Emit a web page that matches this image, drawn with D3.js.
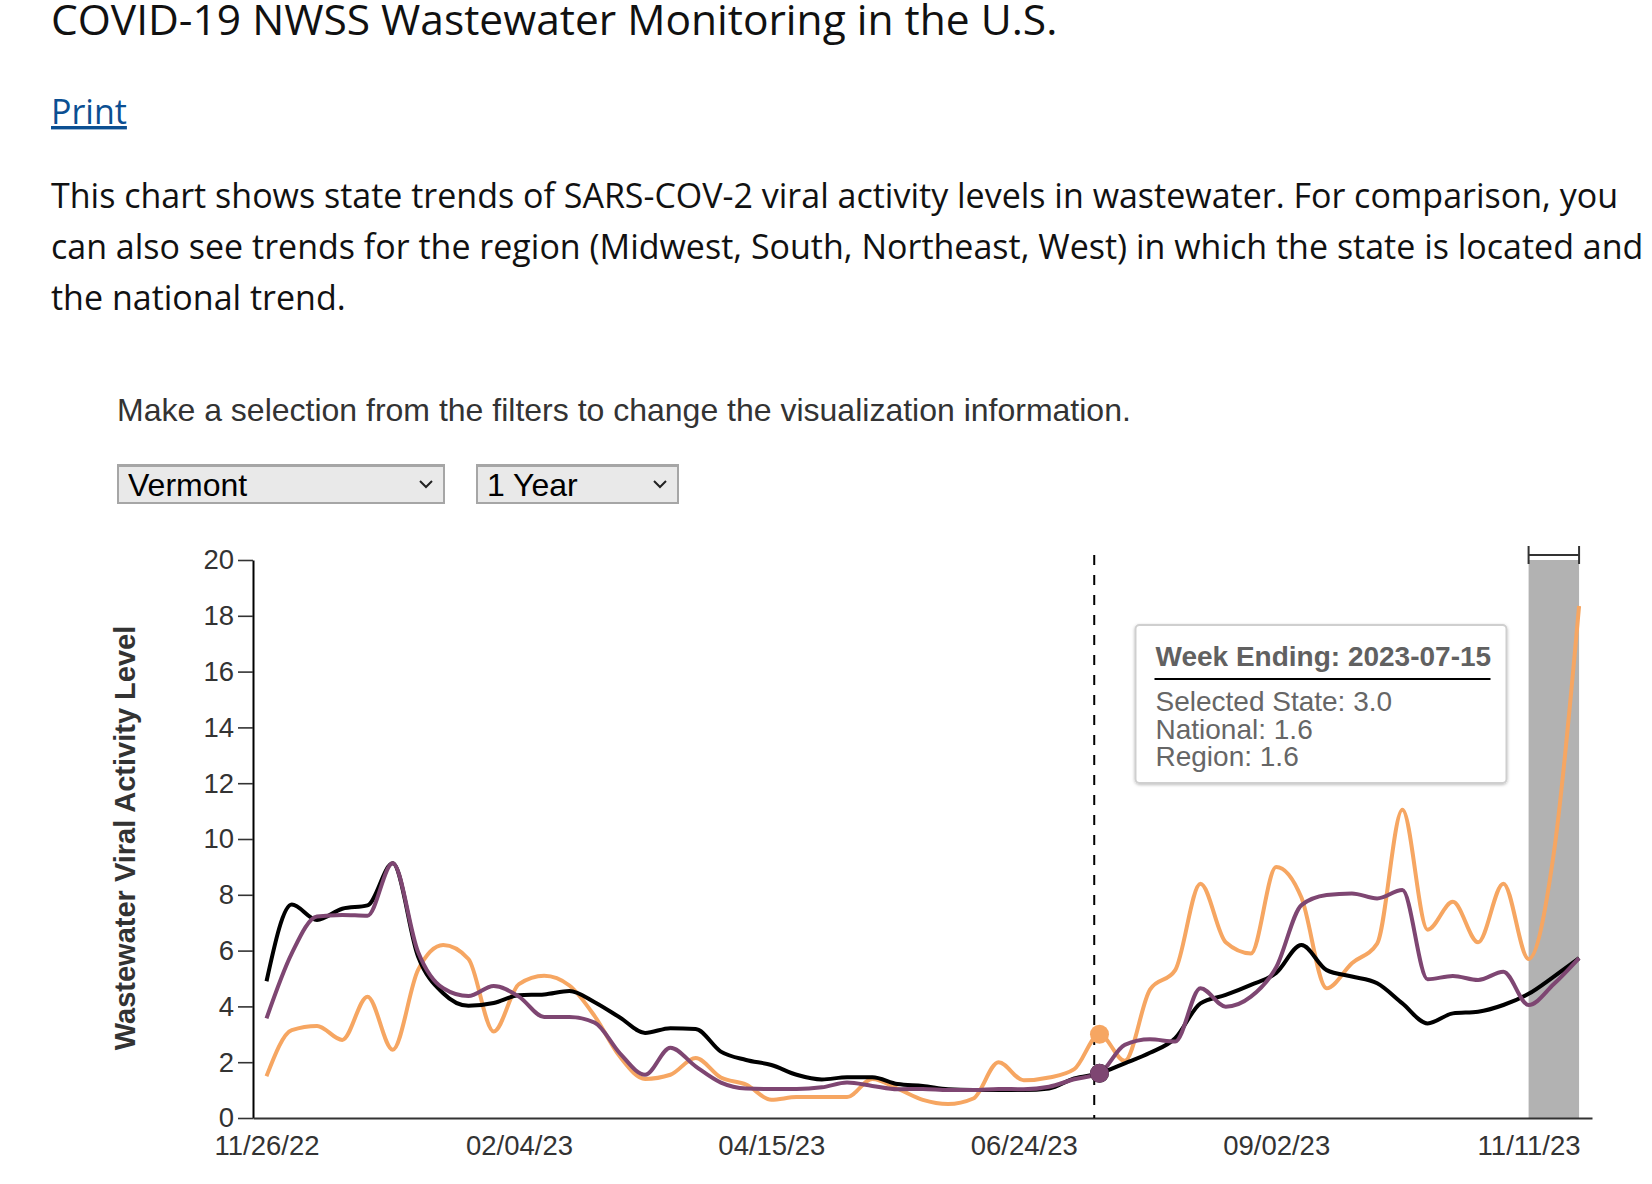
<!DOCTYPE html>
<html>
<head>
<meta charset="utf-8">
<script src="https://cdn.jsdelivr.net/npm/d3@7"></script>
<style>
  body { margin: 0; background: #fff; }
  #page { position: relative; width: 1652px; height: 1184px; overflow: hidden; }
  #canvas { position: absolute; left: 0; top: 0; }
  .filter {
    position: absolute;
    -webkit-appearance: none;
    appearance: none;
    box-sizing: border-box;
    height: 40px;
    padding: 0 0 0 9px;
    font: 32px "Liberation Sans", Arial, sans-serif;
    color: #000;
    background-color: #e9e9e9;
    border: 2px solid #a6a6a6;
    border-top-width: 3px;
    border-radius: 0;
    background-image: url("data:image/svg+xml;utf8,<svg xmlns='http://www.w3.org/2000/svg' width='14' height='9'><path d='M1 1 L7 7 L13 1' fill='none' stroke='%23222' stroke-width='2'/></svg>");
    background-repeat: no-repeat;
    background-position: right 10px center;
  }
</style>
</head>
<body>
<div id="page"></div>
<script>
// weekly values, first week ending 2022-11-26, last 2023-11-25
let firstWeek = '2022-11-26'
let stateValues = [
  1.5, 3.15, 3.3, 2.8, 4.35, 2.45, 5.3, 6.2, 5.7, 3.1,
  4.8, 5.1, 4.75, 3.65, 2.2, 1.4, 1.55, 2.15, 1.45, 1.2,
  0.65, 0.75, 0.75, 0.75, 1.4, 1.05, 0.65, 0.5, 0.7, 2.0,
  1.35, 1.45, 1.75, 3.0, 2.05, 4.6, 5.3, 8.4, 6.3, 5.9,
  9.0, 7.9, 4.65, 5.55, 6.25, 11.05, 6.75, 7.75, 6.3, 8.4,
  5.7, 9.5, 18.35
]
let nationalValues = [
  4.9, 7.65, 7.1, 7.5, 7.62, 9.13, 5.8, 4.47, 4.02, 4.12,
  4.4, 4.43, 4.55, 4.15, 3.6, 3.05, 3.22, 3.19, 2.38, 2.08,
  1.9, 1.55, 1.38, 1.46, 1.46, 1.22, 1.15, 1.03, 1.0, 1.0,
  1.0, 1.06, 1.42, 1.6, 1.96, 2.34, 2.86, 4.11, 4.41, 4.77,
  5.2, 6.2, 5.3, 5.07, 4.83, 4.11, 3.39, 3.75, 3.81, 4.05,
  4.45, 5.07, 5.73
]
let regionValues = [
  3.57, 5.9, 7.22, 7.28, 7.25, 9.13, 5.96, 4.65, 4.37, 4.73,
  4.35, 3.62, 3.62, 3.42, 2.32, 1.55, 2.52, 1.85, 1.27, 1.06,
  1.04, 1.04, 1.1, 1.27, 1.15, 1.03, 1.04, 1.0, 1.0, 1.04,
  1.03, 1.12, 1.39, 1.6, 2.62, 2.82, 2.74, 4.65, 3.99, 4.35,
  5.4, 7.63, 7.99, 8.05, 7.87, 8.17, 4.97, 5.09, 4.95, 5.24,
  4.05, 4.8, 5.73
]
let tickLabels = ['11/26/22', '02/04/23', '04/15/23', '06/24/23', '09/02/23', '11/11/23']
let yTicks = [0, 2, 4, 6, 8, 10, 12, 14, 16, 18, 20]
let selectedWeek = '2023-07-15'
let hoverTime = '2023-07-13 13:00'   // where the mouse line sits
let incompleteFrom = '2023-11-11'
let stateOptions = ['Vermont']
let rangeOptions = ['1 Year']

let introLines = [
  'This chart shows state trends of SARS-COV-2 viral activity levels in wastewater. For comparison, you',
  'can also see trends for the region (Midwest, South, Northeast, West) in which the state is located and',
  'the national trend.'
]

const orange = '#f6a662'
const purple = '#7e4672'
const sans = '"Liberation Sans", Arial, Helvetica, sans-serif'
const open = '"Open Sans", sans-serif'

let width = 1652
let height = 1184
let margin = {top: 560, right: 60, bottom: 66, left: 253}

const parseDay = d3.timeParse('%Y-%m-%d')
const parseTick = d3.timeParse('%m/%d/%y')
const parseTime = d3.timeParse('%Y-%m-%d %H:%M')

let weeks = stateValues.map((v, i) => d3.timeDay.offset(parseDay(firstWeek), i * 7))
let rows = weeks.map((d, i) => ({date: d, state: stateValues[i], national: nationalValues[i], region: regionValues[i]}))

const page = d3.select('#page')
const svg = page.append('svg').attr('id', 'canvas').attr('width', width).attr('height', height)

// header text
svg.append('text')
  .attr('x', 51).attr('y', 35)
  .style('font-family', open).style('font-size', '42.5px').attr('fill', '#111')
  .text('COVID-19 NWSS Wastewater Monitoring in the U.S.')

svg.append('text')
  .attr('x', 51).attr('y', 124)
  .style('font-family', open).style('font-size', '34px').attr('fill', '#0b4f92')
  .style('text-decoration', 'underline')
  .text('Print')

svg.selectAll('.intro')
  .data(introLines)
  .enter()
  .append('text')
  .attr('class', 'intro')
  .attr('x', 51)
  .attr('y', (d, i) => 208 + i * 51)
  .style('font-family', open).style('font-size', '34px').attr('fill', '#111')
  .text(d => d)

svg.append('text')
  .attr('x', 117).attr('y', 421)
  .style('font-family', sans).style('font-size', '32px').attr('fill', '#333')
  .text('Make a selection from the filters to change the visualization information.')

// filters
page.append('select').attr('class', 'filter')
  .style('left', '117px').style('top', '464px').style('width', '328px')
  .selectAll('option').data(stateOptions).enter().append('option').text(d => d)
page.append('select').attr('class', 'filter')
  .style('left', '476px').style('top', '464px').style('width', '203px')
  .selectAll('option').data(rangeOptions).enter().append('option').text(d => d)

// scales
let x = d3.scaleTime()
  .domain([d3.timeHour.offset(weeks[0], -90), d3.timeHour.offset(weeks[weeks.length - 1], 86)])
  .range([margin.left, width - margin.right])
let y = d3.scaleLinear()
  .domain([0, 20])
  .range([height - margin.bottom, margin.top])

const chart = svg.append('g')

// incomplete data band
let bandStart = x(parseDay(incompleteFrom))
let bandEnd = x(weeks[weeks.length - 1])
chart.append('rect')
  .attr('x', bandStart).attr('y', y(20))
  .attr('width', bandEnd - bandStart).attr('height', y(0) - y(20))
  .attr('fill', '#b2b2b2')
chart.append('path')
  .attr('d', `M${bandStart},${y(20) - 14}V${y(20) + 4}M${bandStart},${y(20) - 5}H${bandEnd}M${bandEnd},${y(20) - 14}V${y(20) + 4}`)
  .attr('fill', 'none').attr('stroke', '#333').attr('stroke-width', 2)

// axes
let yAxis = d3.axisLeft(y).tickValues(yTicks).tickSize(15).tickPadding(4).tickSizeOuter(0)
let yg = chart.append('g').attr('transform', `translate(${margin.left},0)`).call(yAxis)
yg.select('.domain').attr('stroke', '#000').attr('stroke-width', 2)
yg.selectAll('.tick line').attr('stroke', '#333').attr('stroke-width', 1.6)
yg.selectAll('.tick text').attr('fill', '#333').style('font-family', sans).style('font-size', '27.5px')

let xAxis = d3.axisBottom(x)
  .tickValues(tickLabels.map(parseTick))
  .tickFormat(d3.timeFormat('%m/%d/%y'))
  .tickSize(0).tickPadding(17).tickSizeOuter(0)
let xg = chart.append('g').attr('transform', `translate(0,${y(0)})`).call(xAxis)
xg.select('.domain').attr('stroke', '#333').attr('stroke-width', 2)
xg.selectAll('.tick text').attr('fill', '#333').style('font-family', sans).style('font-size', '27.5px')

svg.append('text')
  .attr('transform', 'rotate(-90)')
  .attr('x', -(y(0) + y(20)) / 2 + 1).attr('y', 135)
  .attr('text-anchor', 'middle')
  .style('font-family', sans).style('font-size', '29px').style('font-weight', 'bold').attr('fill', '#333')
  .text('Wastewater Viral Activity Level')

// hover line
let hx = x(parseTime(hoverTime))
chart.append('line')
  .attr('x1', hx).attr('x2', hx).attr('y1', y(20) - 5).attr('y2', y(0))
  .attr('stroke', '#000').attr('stroke-width', 2).attr('stroke-dasharray', '10,10')

// lines
const series = [
  {key: 'state', color: orange},
  {key: 'national', color: '#000'},
  {key: 'region', color: purple}
]
series.forEach(s => {
  let line = d3.line()
    .x(d => x(d.date))
    .y(d => y(d[s.key]))
    .curve(d3.curveMonotoneX)
  chart.append('path')
    .datum(rows)
    .attr('d', line)
    .attr('fill', 'none')
    .attr('stroke', s.color)
    .attr('stroke-width', 4)
})

// selected week markers
let sel = rows.find(r => +r.date === +parseDay(selectedWeek))
series.forEach(s => {
  chart.append('circle')
    .attr('cx', x(sel.date)).attr('cy', y(sel[s.key]))
    .attr('r', 9.5).attr('fill', s.color)
})

// tooltip
let defs = svg.append('defs')
let f = defs.append('filter').attr('id', 'shadow').attr('x', '-10%').attr('y', '-10%').attr('width', '120%').attr('height', '130%')
f.append('feDropShadow').attr('dx', 0).attr('dy', 1).attr('stdDeviation', 1.5).attr('flood-color', '#000').attr('flood-opacity', 0.25)

let tip = svg.append('g').attr('transform', `translate(${x(sel.date) + 36},625)`)
tip.append('rect')
  .attr('width', 371).attr('height', 158).attr('rx', 4)
  .attr('fill', '#fff').attr('stroke', '#cfcfcf').attr('stroke-width', 2)
  .attr('filter', 'url(#shadow)')
tip.append('text')
  .attr('x', 20).attr('y', 41)
  .style('font-family', sans).style('font-size', '28px').style('font-weight', 'bold').attr('fill', '#616161')
  .text(`Week Ending: ${d3.timeFormat('%Y-%m-%d')(sel.date)}`)
tip.append('line')
  .attr('x1', 19).attr('x2', 355).attr('y1', 54).attr('y2', 54)
  .attr('stroke', '#000').attr('stroke-width', 2)
let tipLines = [
  `Selected State: ${sel.state.toFixed(1)}`,
  `National: ${sel.national.toFixed(1)}`,
  `Region: ${sel.region.toFixed(1)}`
]
tip.selectAll('.tipline')
  .data(tipLines)
  .enter()
  .append('text')
  .attr('class', 'tipline')
  .attr('x', 20)
  .attr('y', (d, i) => 86 + i * 27.7)
  .style('font-family', sans).style('font-size', '28px').attr('fill', '#666')
  .text(d => d)
</script>
</body>
</html>
